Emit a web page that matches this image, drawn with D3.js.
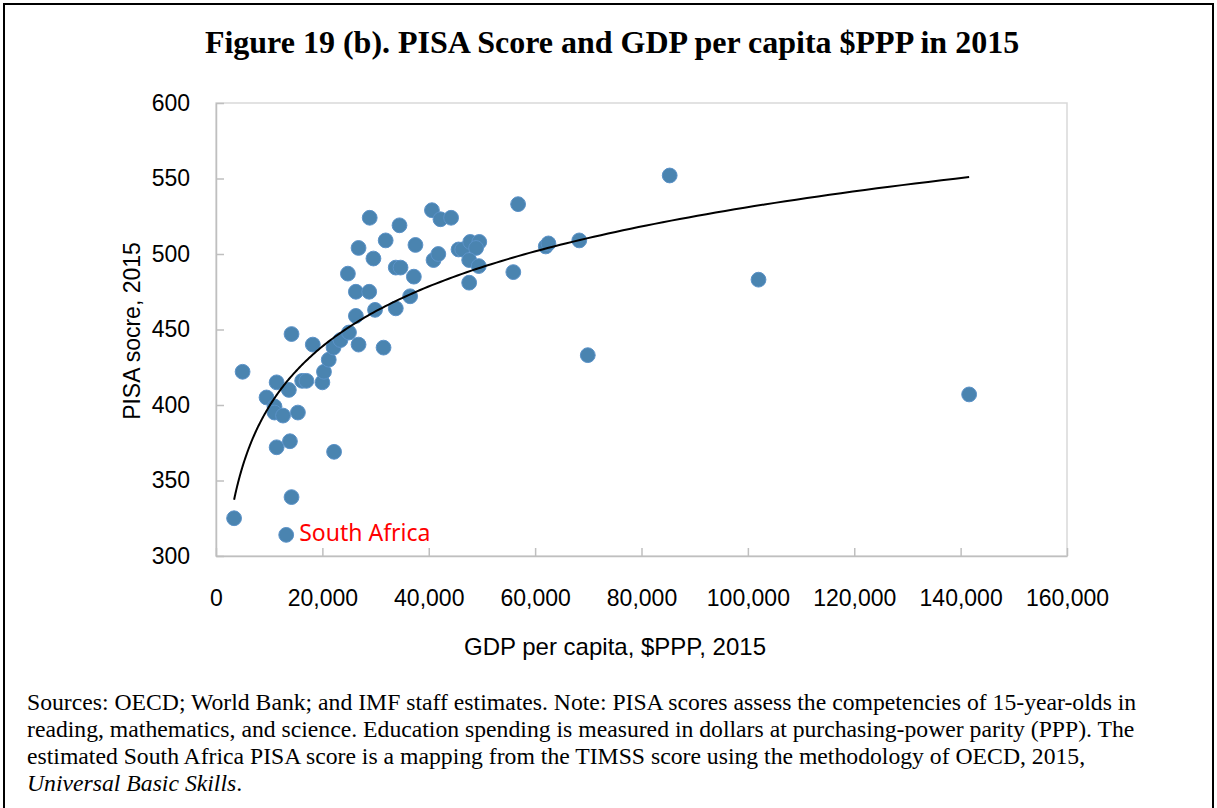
<!DOCTYPE html>
<html>
<head>
<meta charset="utf-8">
<script src="https://cdn.jsdelivr.net/npm/d3@7"></script>
<style>
    body { margin: 0; background: #fff; }
    svg { display: block; }
</style>
</head>
<body>
<script>
// GDP per capita ($PPP, 2015) and PISA score
const gdpPerCapita = [3400, 5000, 13200, 14200, 11400, 13900, 22200, 9500, 11000, 11000,
    12600, 15400, 11400, 13700, 14200, 16200, 17000, 18200, 20000, 20300,
    21200, 22100, 23400, 25000, 26300, 26800, 29900, 31500, 33800, 36500,
    26300, 28800, 24800, 29600, 26800, 28900, 31900, 34500, 37500, 33800,
    34700, 37200, 40600, 42200, 44200, 40900, 41800, 45600, 46300, 47800,
    49500, 48900, 47600, 49400, 47600, 55900, 56800, 62000, 62500, 68300,
    69900, 85300, 102000, 141600];
const pisaScore = [325, 422, 314, 339, 372, 376, 369, 405, 399, 395,
    393, 395, 415, 410, 447, 416, 416, 440, 415, 422,
    430, 438, 443, 448, 459, 440, 463, 438, 464, 472,
    475, 475, 487, 497, 504, 524, 509, 519, 506, 491,
    491, 485, 529, 523, 524, 496, 500, 503, 503, 508,
    508, 504, 496, 492, 481, 488, 533, 505, 507, 509,
    433, 552, 483, 407];
const southAfrica = { gdp: 13200, score: 314, label: "South Africa" };

const xTicks = [0, 20000, 40000, 60000, 80000, 100000, 120000, 140000, 160000];
const yTicks = [300, 350, 400, 450, 500, 550, 600];

const title = "Figure 19 (b). PISA Score and GDP per capita $PPP in 2015";
const xTitle = "GDP per capita, $PPP, 2015";
const yTitle = "PISA socre, 2015";
const noteLines = [
    "Sources: OECD; World Bank; and IMF staff estimates. Note: PISA scores assess the competencies of 15-year-olds in",
    "reading, mathematics, and science. Education spending is measured in dollars at purchasing-power parity (PPP). The",
    "estimated South Africa PISA score is a mapping from the TIMSS score using the methodology of OECD, 2015,"
];

function init() {
    "use strict";

    const w = 1217;
    const h = 808;
    const plotLeft = 216;
    const plotRight = 1067;
    const plotTop = 103;
    const plotBottom = 556;
    const axisColor = "#bfbfbf";
    const dotColor = "#4a84b0";

    const data = gdpPerCapita.map((g, i) => ({ gdp: g, score: pisaScore[i] }));

    const svg = d3.select('body')
        .append('svg')
        .attr("width", w)
        .attr("height", h);

    // outer frame (bottom runs off the page)
    svg.append('path')
        .attr("d", `M4,${h} V4 H1213 V${h}`)
        .attr("fill", "none")
        .attr("stroke", "#000")
        .attr("stroke-width", 2);

    svg.append('text')
        .attr("x", 612)
        .attr("y", 53)
        .attr("text-anchor", "middle")
        .style("font-family", "'Liberation Serif', 'Times New Roman', serif")
        .style("font-weight", "bold")
        .style("font-size", "32px")
        .text(title);

    // scales
    const xScale = d3.scaleLinear()
        .domain([0, 160000])
        .range([plotLeft, plotRight]);
    const yScale = d3.scaleLinear()
        .domain([300, 600])
        .range([plotBottom, plotTop]);

    // plot border
    svg.append('rect')
        .attr("x", xScale(0))
        .attr("y", yScale(600))
        .attr("width", xScale(160000) - xScale(0))
        .attr("height", yScale(300) - yScale(600))
        .attr("fill", "none")
        .attr("stroke", "#d9d9d9")
        .attr("stroke-width", 1.5);

    // axes
    const xAxis = d3.axisBottom(xScale)
        .tickValues(xTicks)
        .tickSizeInner(-8)
        .tickSizeOuter(0)
        .tickPadding(34)
        .tickFormat(d3.format(","));
    const yAxis = d3.axisLeft(yScale)
        .tickValues(yTicks)
        .tickSizeInner(-8)
        .tickSizeOuter(0)
        .tickPadding(26);

    const gx = svg.append('g')
        .attr("transform", "translate(0," + plotBottom + ")")
        .call(xAxis);
    const gy = svg.append('g')
        .attr("transform", "translate(" + plotLeft + ",0)")
        .call(yAxis);

    [gx, gy].forEach(g => {
        g.selectAll('path, line')
            .attr("stroke", axisColor)
            .attr("stroke-width", 1.5);
        g.selectAll('text')
            .attr("fill", "#000")
            .style("font-family", "'Liberation Sans', Arial, sans-serif")
            .style("font-size", "23px");
    });

    svg.append('text')
        .attr("x", 615)
        .attr("y", 655)
        .attr("text-anchor", "middle")
        .style("font-family", "'Liberation Sans', Arial, sans-serif")
        .style("font-size", "24px")
        .text(xTitle);

    svg.append('text')
        .attr("transform", "translate(140,331) rotate(-90)")
        .attr("text-anchor", "middle")
        .style("font-family", "'Liberation Sans', Arial, sans-serif")
        .style("font-size", "23px")
        .text(yTitle);

    // points
    svg.append('g')
        .selectAll('circle')
        .data(data)
        .enter()
        .append('circle')
            .attr("cx", d => xScale(d.gdp))
            .attr("cy", d => yScale(d.score))
            .attr("r", 7.4)
            .attr("fill", dotColor)
            .attr("stroke", "#5b92c8")
            .attr("stroke-width", 1);

    // logarithmic trend line (least squares on ln x), like the spreadsheet fit
    const lx = data.map(d => Math.log(d.gdp));
    const mx = d3.mean(lx);
    const my = d3.mean(data, d => d.score);
    const b = d3.sum(data, (d, i) => (lx[i] - mx) * (d.score - my)) / d3.sum(lx, v => (v - mx) * (v - mx));
    const a = my - b * mx;
    const xMin = d3.min(gdpPerCapita);
    const xMax = d3.max(gdpPerCapita);
    const trend = d3.range(0, 201).map(i => {
        const g = Math.exp(Math.log(xMin) + (Math.log(xMax) - Math.log(xMin)) * i / 200);
        return [g, a + b * Math.log(g)];
    });

    svg.append('path')
        .datum(trend)
        .attr("fill", "none")
        .attr("stroke", "#000")
        .attr("stroke-width", 2)
        .attr("d", d3.line()
            .x(d => xScale(d[0]))
            .y(d => yScale(d[1])));

    svg.append('text')
        .attr("x", xScale(southAfrica.gdp) + 13)
        .attr("y", yScale(southAfrica.score) + 6)
        .attr("fill", "#ff0000")
        .style("font-family", "'Noto Sans', sans-serif")
        .style("font-size", "23px")
        .text(southAfrica.label);

    // notes
    const notes = svg.append('g')
        .style("font-family", "'Liberation Serif', 'Times New Roman', serif")
        .style("font-size", "23.7px");
    noteLines.forEach((line, i) => {
        notes.append('text')
            .attr("x", 27)
            .attr("y", 710 + i * 27)
            .text(line);
    });
    const last = notes.append('text')
        .attr("x", 27)
        .attr("y", 710 + 3 * 27);
    last.append('tspan')
        .style("font-style", "italic")
        .text("Universal Basic Skills");
    last.append('tspan').text(".");
}

window.onload = init;
</script>
</body>
</html>
